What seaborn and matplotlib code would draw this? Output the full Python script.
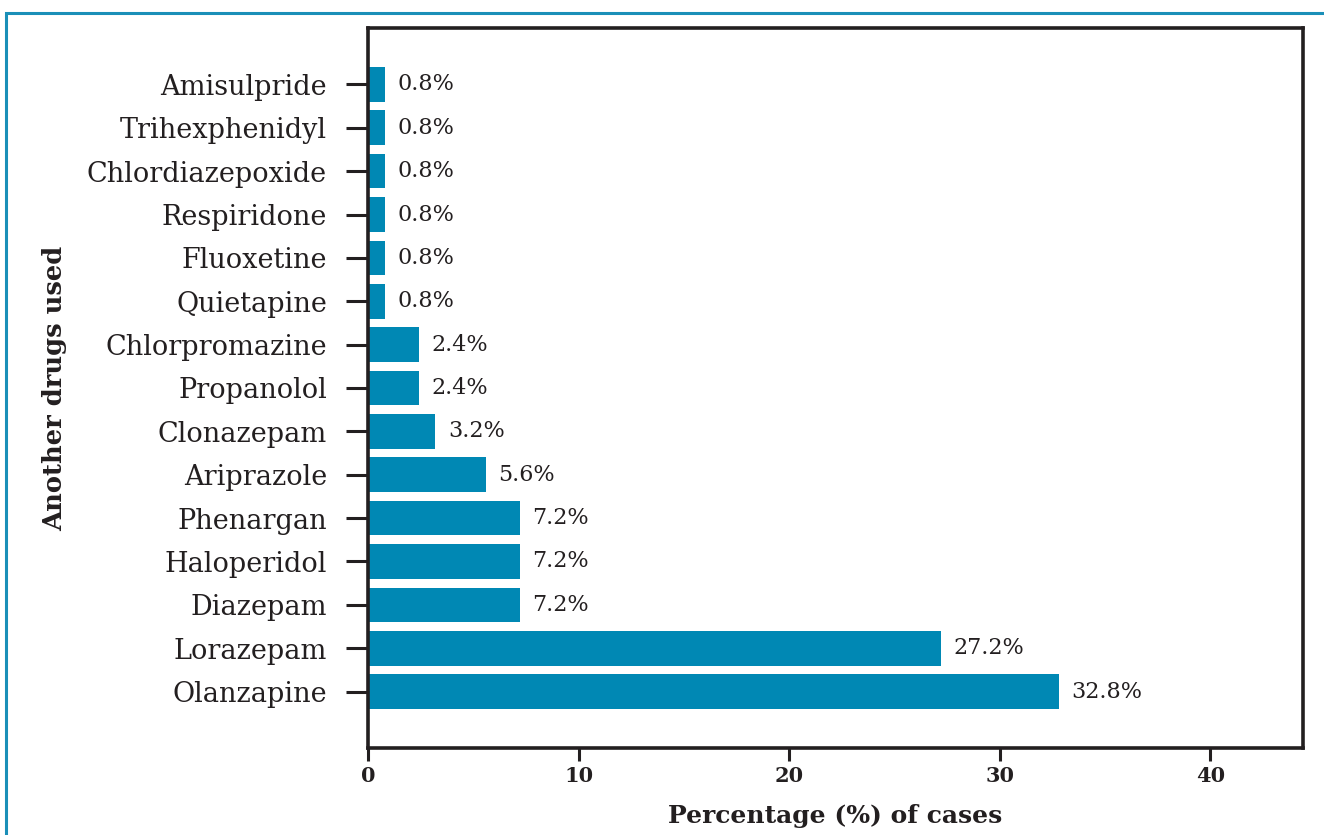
import matplotlib
matplotlib.use("Agg")
import matplotlib.pyplot as plt
import seaborn as sns
import pandas as pd
from matplotlib.patches import Rectangle

drugs = ["Amisulpride", "Trihexphenidyl", "Chlordiazepoxide", "Respiridone", "Fluoxetine",
         "Quietapine", "Chlorpromazine", "Propanolol", "Clonazepam", "Ariprazole",
         "Phenargan", "Haloperidol", "Diazepam", "Lorazepam", "Olanzapine"]
percent = [0.8, 0.8, 0.8, 0.8, 0.8, 0.8, 2.4, 2.4, 3.2, 5.6, 7.2, 7.2, 7.2, 27.2, 32.8]
xticks = [0, 10, 20, 30, 40]

df = pd.DataFrame({"drug": drugs, "pct": percent})

sns.set_theme(style="white")
plt.rcParams['font.family'] = ['DejaVu Serif']

fig = plt.figure(figsize=(13.24, 8.35), dpi=100)
ax = fig.add_axes([368/1324, 1 - 748/835, (1303-368)/1324, (748-28)/835])

sns.barplot(data=df, x="pct", y="drug", order=drugs, color="#0088B4", saturation=1,
            width=0.8, linewidth=0, ax=ax)

for i, v in enumerate(percent):
    ax.text(v + 0.6, i, f"{v}%", va="center", ha="left", fontsize=16, color="#231f20")

ax.set_xlim(0, 44.4)
ax.set_ylim(len(drugs) - 1 + 1.3, -1.3)
ax.set_xticks(xticks)
ax.set_xticklabels([str(t) for t in xticks], fontweight="bold", fontsize=15, color="#231f20")
ax.tick_params(axis="x", length=9, width=2.2, color="#231f20", pad=4, bottom=True)
ax.tick_params(axis="y", length=16, width=2.2, color="#231f20", pad=13.5, left=True,
               labelsize=19.5, labelcolor="#231f20")
for sp in ax.spines.values():
    sp.set_visible(True)
    sp.set_linewidth(2.6)
    sp.set_color("#231f20")

ax.set_xlabel("Percentage (%) of cases", fontsize=18, fontweight="bold", color="#231f20", labelpad=13)
ax.set_ylabel("Another drugs used", fontsize=18.5, fontweight="bold", color="#231f20", labelpad=14)

fig.patches.append(Rectangle((6/1324, -0.1), 1.2, 1 - 13/835 + 0.1, transform=fig.transFigure,
                             fill=False, edgecolor="#1a8fb8", linewidth=2.2))

fig.savefig("out.png", dpi=100)
